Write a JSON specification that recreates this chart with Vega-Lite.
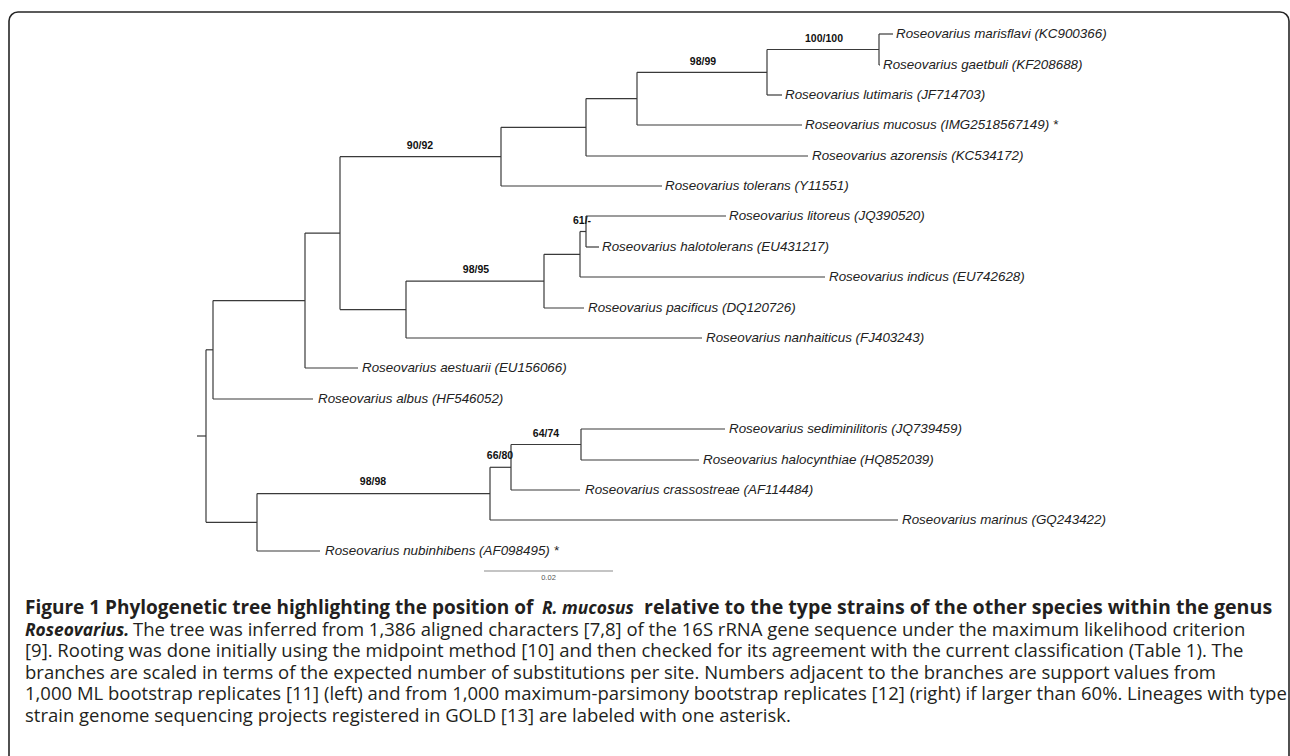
{
  "$schema": "https://vega.github.io/schema/vega-lite/v6.json",
  "width": 1290,
  "height": 756,
  "padding": 0,
  "autosize": {"type": "none"},
  "background": "white",
  "config": {"view": {"stroke": null}},
  "datasets": {
    "frame": [{"x": 9, "y": 12, "x2": 1289, "y2": 800}],
    "seg": [
      {"x": 197, "y": 436, "x2": 206, "y2": 436},
      {"x": 206, "y": 349.8, "x2": 206, "y2": 522.3},
      {"x": 206, "y": 349.8, "x2": 213, "y2": 349.8},
      {"x": 213, "y": 300.6, "x2": 213, "y2": 399},
      {"x": 213, "y": 399, "x2": 313, "y2": 399},
      {"x": 213, "y": 300.6, "x2": 305, "y2": 300.6},
      {"x": 305, "y": 233.1, "x2": 305, "y2": 368},
      {"x": 305, "y": 368, "x2": 358, "y2": 368},
      {"x": 305, "y": 233.1, "x2": 340, "y2": 233.1},
      {"x": 340, "y": 156.7, "x2": 340, "y2": 309.6},
      {"x": 340, "y": 156.7, "x2": 501, "y2": 156.7},
      {"x": 501, "y": 127.3, "x2": 501, "y2": 186},
      {"x": 501, "y": 186, "x2": 662, "y2": 186},
      {"x": 501, "y": 127.3, "x2": 586, "y2": 127.3},
      {"x": 586, "y": 98.6, "x2": 586, "y2": 156},
      {"x": 586, "y": 156, "x2": 808, "y2": 156},
      {"x": 586, "y": 98.6, "x2": 637, "y2": 98.6},
      {"x": 637, "y": 72.3, "x2": 637, "y2": 125},
      {"x": 637, "y": 125, "x2": 802, "y2": 125},
      {"x": 637, "y": 72.3, "x2": 767, "y2": 72.3},
      {"x": 767, "y": 49.5, "x2": 767, "y2": 95},
      {"x": 767, "y": 95, "x2": 782, "y2": 95},
      {"x": 767, "y": 49.5, "x2": 879, "y2": 49.5},
      {"x": 879, "y": 34, "x2": 879, "y2": 65},
      {"x": 879, "y": 34, "x2": 893, "y2": 34},
      {"x": 879, "y": 65, "x2": 880, "y2": 65},
      {"x": 340, "y": 309.6, "x2": 406, "y2": 309.6},
      {"x": 406, "y": 281.1, "x2": 406, "y2": 338},
      {"x": 406, "y": 338, "x2": 702, "y2": 338},
      {"x": 406, "y": 281.1, "x2": 544, "y2": 281.1},
      {"x": 544, "y": 254.3, "x2": 544, "y2": 308},
      {"x": 544, "y": 308, "x2": 584, "y2": 308},
      {"x": 544, "y": 254.3, "x2": 580, "y2": 254.3},
      {"x": 580, "y": 231.5, "x2": 580, "y2": 277},
      {"x": 580, "y": 277, "x2": 825, "y2": 277},
      {"x": 580, "y": 231.5, "x2": 586, "y2": 231.5},
      {"x": 586, "y": 216, "x2": 586, "y2": 247},
      {"x": 586, "y": 216, "x2": 726, "y2": 216},
      {"x": 586, "y": 247, "x2": 599, "y2": 247},
      {"x": 206, "y": 522.3, "x2": 257, "y2": 522.3},
      {"x": 257, "y": 493.6, "x2": 257, "y2": 551},
      {"x": 257, "y": 551, "x2": 320, "y2": 551},
      {"x": 257, "y": 493.6, "x2": 490, "y2": 493.6},
      {"x": 490, "y": 467.3, "x2": 490, "y2": 520},
      {"x": 490, "y": 520, "x2": 898, "y2": 520},
      {"x": 490, "y": 467.3, "x2": 511, "y2": 467.3},
      {"x": 511, "y": 444.5, "x2": 511, "y2": 490},
      {"x": 511, "y": 490, "x2": 580, "y2": 490},
      {"x": 511, "y": 444.5, "x2": 581, "y2": 444.5},
      {"x": 581, "y": 429, "x2": 581, "y2": 460},
      {"x": 581, "y": 429, "x2": 725, "y2": 429},
      {"x": 581, "y": 460, "x2": 699, "y2": 460}
    ],
    "scalebar": [{"x": 484, "y": 571, "x2": 613, "y2": 571}],
    "scalelabel": [{"x": 548.5, "y": 578, "text": "0.02"}],
    "leaves": [
      {"x": 896, "y": 34, "text": "Roseovarius marisflavi (KC900366)"},
      {"x": 883, "y": 65, "text": "Roseovarius gaetbuli (KF208688)"},
      {"x": 785, "y": 95, "text": "Roseovarius lutimaris (JF714703)"},
      {"x": 805, "y": 125, "text": "Roseovarius mucosus (IMG2518567149) *"},
      {"x": 812, "y": 156, "text": "Roseovarius azorensis (KC534172)"},
      {"x": 665, "y": 186, "text": "Roseovarius tolerans (Y11551)"},
      {"x": 729, "y": 216, "text": "Roseovarius litoreus (JQ390520)"},
      {"x": 602, "y": 247, "text": "Roseovarius halotolerans (EU431217)"},
      {"x": 829, "y": 277, "text": "Roseovarius indicus (EU742628)"},
      {"x": 588, "y": 308, "text": "Roseovarius pacificus (DQ120726)"},
      {"x": 706, "y": 338, "text": "Roseovarius nanhaiticus (FJ403243)"},
      {"x": 362, "y": 368, "text": "Roseovarius aestuarii (EU156066)"},
      {"x": 318, "y": 399, "text": "Roseovarius albus (HF546052)"},
      {"x": 729, "y": 429, "text": "Roseovarius sediminilitoris (JQ739459)"},
      {"x": 703, "y": 460, "text": "Roseovarius halocynthiae (HQ852039)"},
      {"x": 585, "y": 490, "text": "Roseovarius crassostreae (AF114484)"},
      {"x": 902, "y": 520, "text": "Roseovarius marinus (GQ243422)"},
      {"x": 325, "y": 551, "text": "Roseovarius nubinhibens (AF098495) *"}
    ],
    "boot": [
      {"x": 824, "y": 38.5, "text": "100/100"},
      {"x": 703, "y": 62, "text": "98/99"},
      {"x": 420, "y": 146, "text": "90/92"},
      {"x": 476, "y": 270, "text": "98/95"},
      {"x": 582, "y": 221, "text": "61/-"},
      {"x": 546, "y": 433.5, "text": "64/74"},
      {"x": 500, "y": 456, "text": "66/80"},
      {"x": 373, "y": 482, "text": "98/98"}
    ],
    "capBoldA": [
      {"x": 25, "y": 614, "text": "Figure 1 Phylogenetic tree highlighting the position of"}
    ],
    "capBoldB": [
      {"x": 644, "y": 614, "text": "relative to the type strains of the other species within the genus"}
    ],
    "capBoldItalic": [
      {"x": 542, "y": 614, "text": "R. mucosus"},
      {"x": 25, "y": 635.6, "text": "Roseovarius."}
    ],
    "capRegular": [
      {"x": 133, "y": 635.6, "text": "The tree was inferred from 1,386 aligned characters [7,8] of the 16S rRNA gene sequence under the maximum likelihood criterion"},
      {"x": 25, "y": 657.2, "text": "[9]. Rooting was done initially using the midpoint method [10] and then checked for its agreement with the current classification (Table 1). The"},
      {"x": 25, "y": 678.8, "text": "branches are scaled in terms of the expected number of substitutions per site. Numbers adjacent to the branches are support values from"},
      {"x": 25, "y": 700.4, "text": "1,000 ML bootstrap replicates [11] (left) and from 1,000 maximum-parsimony bootstrap replicates [12] (right) if larger than 60%. Lineages with type"},
      {"x": 25, "y": 722, "text": "strain genome sequencing projects registered in GOLD [13] are labeled with one asterisk."}
    ]
  },
  "encoding": {
    "x": {"field": "x", "type": "quantitative", "scale": {"domain": [0, 1290], "nice": false, "zero": false}, "axis": null},
    "y": {"field": "y", "type": "quantitative", "scale": {"domain": [0, 756], "nice": false, "zero": false, "reverse": true}, "axis": null}
  },
  "layer": [
    {
      "data": {"name": "frame"},
      "mark": {"type": "rect", "filled": false, "stroke": "#262626", "strokeWidth": 1.6, "cornerRadius": 9, "clip": true},
      "encoding": {"x2": {"field": "x2"}, "y2": {"field": "y2"}}
    },
    {
      "data": {"name": "seg"},
      "mark": {"type": "rule", "color": "#3a3a3a", "strokeWidth": 1.2},
      "encoding": {"x2": {"field": "x2"}, "y2": {"field": "y2"}}
    },
    {
      "data": {"name": "scalebar"},
      "mark": {"type": "rule", "color": "#8a8a8a", "strokeWidth": 1.2},
      "encoding": {"x2": {"field": "x2"}, "y2": {"field": "y2"}}
    },
    {
      "data": {"name": "scalelabel"},
      "mark": {"type": "text", "font": "Liberation Sans", "fontSize": 7.5, "color": "#555", "align": "center", "baseline": "middle"},
      "encoding": {"text": {"field": "text"}}
    },
    {
      "data": {"name": "leaves"},
      "mark": {"type": "text", "font": "Liberation Sans", "fontSize": 13.4, "fontStyle": "italic", "color": "#222", "align": "left", "baseline": "middle"},
      "encoding": {"text": {"field": "text"}}
    },
    {
      "data": {"name": "boot"},
      "mark": {"type": "text", "font": "Liberation Sans", "fontSize": 10.5, "fontWeight": "bold", "color": "#111", "align": "center", "baseline": "middle"},
      "encoding": {"text": {"field": "text"}}
    },
    {
      "data": {"name": "capBoldA"},
      "mark": {"type": "text", "font": "Open Sans", "fontSize": 19.0, "fontWeight": "bold", "color": "#231f20", "align": "left", "baseline": "alphabetic"},
      "encoding": {"text": {"field": "text"}}
    },
    {
      "data": {"name": "capBoldB"},
      "mark": {"type": "text", "font": "Open Sans", "fontSize": 19.6, "fontWeight": "bold", "color": "#231f20", "align": "left", "baseline": "alphabetic"},
      "encoding": {"text": {"field": "text"}}
    },
    {
      "data": {"name": "capBoldItalic"},
      "mark": {"type": "text", "font": "Open Sans", "fontSize": 17.4, "fontWeight": "bold", "fontStyle": "italic", "color": "#231f20", "align": "left", "baseline": "alphabetic"},
      "encoding": {"text": {"field": "text"}}
    },
    {
      "data": {"name": "capRegular"},
      "mark": {"type": "text", "font": "Open Sans", "fontSize": 18.5, "color": "#231f20", "align": "left", "baseline": "alphabetic"},
      "encoding": {"text": {"field": "text"}}
    }
  ]
}
